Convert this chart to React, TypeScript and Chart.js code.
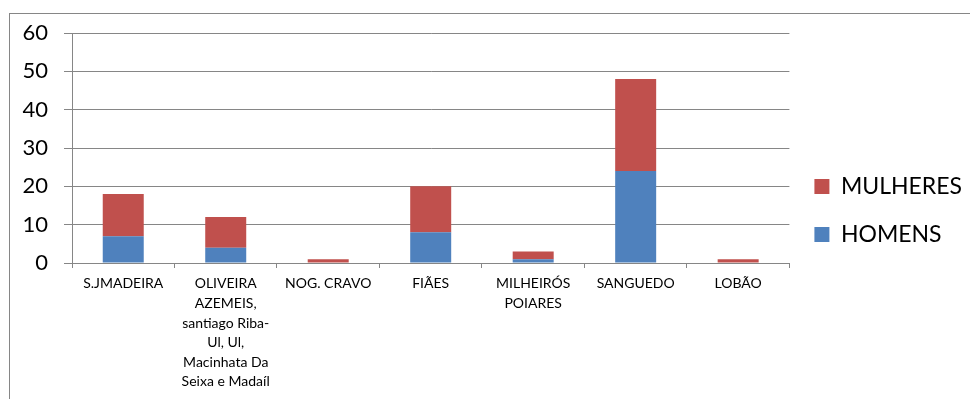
import React, { useEffect, useRef } from "react";
import { Chart, registerables } from "chart.js";

Chart.register(...registerables);

const categories: (string | string[])[] = [
  "S.JMADEIRA",
  ["OLIVEIRA", "AZEMEIS,", "santiago Riba-", "Ul, Ul,", "Macinhata Da", "Seixa e Madaíl"],
  "NOG. CRAVO",
  "FIÃES",
  ["MILHEIRÓS", "POIARES"],
  "SANGUEDO",
  "LOBÃO",
];
const homens = [7, 4, 0, 8, 1, 24, 0];
const mulheres = [11, 8, 1, 12, 2, 24, 1];
const yTicks = { min: 0, max: 60, step: 10 };

const GRID = "#868686";
const FONT = "Lato, 'DejaVu Sans', sans-serif";

export default function App() {
  const ref = useRef<HTMLCanvasElement | null>(null);
  useEffect(() => {
    if (!ref.current) return;
    const chart = new Chart(ref.current, {
      type: "bar",
      data: {
        labels: categories,
        datasets: [
          { label: "HOMENS", data: homens, backgroundColor: "#4F81BD", borderWidth: 0 },
          { label: "MULHERES", data: mulheres, backgroundColor: "#C0504D", borderWidth: 0 },
        ],
      },
      options: {
        responsive: false,
        animation: false,
        layout: { padding: { top: 33, left: 0, right: 28, bottom: 11 } },
        datasets: { bar: { categoryPercentage: 1, barPercentage: 0.4 } },
        plugins: {
          tooltip: { enabled: false },
          legend: {
            position: "right",
            reverse: true,
            labels: {
              boxWidth: 15,
              boxHeight: 15,
              padding: 25,
              color: "#000",
              font: { family: FONT, size: 23 },
            },
          },
        },
        scales: {
          x: {
            stacked: true,
            afterFit: (s: any) => { s.height = 125; },
            grid: { drawOnChartArea: false, drawTicks: true, tickLength: 5, color: GRID, offset: true },
            border: { display: true, color: GRID, width: 1 },
            ticks: {
              autoSkip: false,
              maxRotation: 0,
              minRotation: 0,
              padding: 6,
              color: "#000",
              font: { family: FONT, size: 14, lineHeight: 1.4 },
            },
          },
          y: {
            stacked: true,
            min: yTicks.min,
            max: yTicks.max,
            afterFit: (s: any) => { s.width = 72; },
            grid: { color: GRID, tickLength: 8, drawTicks: true },
            border: { display: true, color: GRID, width: 1 },
            ticks: {
              stepSize: yTicks.step,
              padding: 16,
              color: "#000",
              font: { family: FONT, size: 22 },
            },
          },
        },
      },
    });
    return () => chart.destroy();
  }, []);

  return (
    <div style={{ position: "fixed", inset: 0, overflow: "hidden", background: "#fff" }}>
      <div
        style={{
          position: "absolute",
          left: 9,
          top: 13,
          width: 1200,
          height: 600,
          border: `1px solid ${GRID}`,
        }}
      />
      <canvas
        ref={ref}
        width={1000}
        height={399}
        style={{ position: "absolute", left: 0, top: 0, width: 1000, height: 399 }}
      />
    </div>
  );
}
